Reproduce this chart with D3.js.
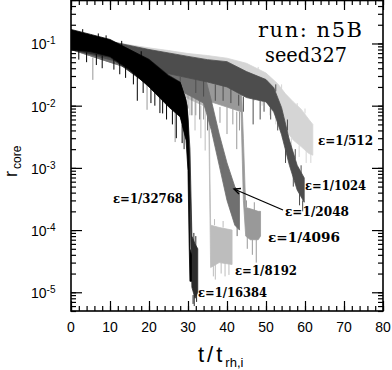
<!DOCTYPE html>
<html>
<head>
<meta charset="utf-8">
<script src="https://cdn.jsdelivr.net/npm/d3@7"></script>
<style>
  body { margin: 0; background: #fff; }
  text { fill: #000; }
</style>
</head>
<body>
<svg id="chart" width="392" height="370"></svg>
<script>
// r_core bands: time (t/t_rh,i), upper edge, lower edge of the noisy band
var t512 = [0, 5, 10, 15, 20, 25, 30, 35, 40, 45, 50, 53, 55, 57, 59, 61, 62]
var hi512 = [0.16, 0.13, 0.108, 0.095, 0.085, 0.077, 0.069, 0.064, 0.058, 0.048, 0.0335, 0.0225, 0.0155, 0.0115, 0.0088, 0.006, 0.005]
var lo512 = [0.08, 0.066, 0.055, 0.049, 0.044, 0.038, 0.032, 0.029, 0.024, 0.0195, 0.0125, 0.0059, 0.0041, 0.0028, 0.0022, 0.0017, 0.0016]

var t1024 = [0, 10, 20, 30, 35, 40, 45, 50, 52, 54, 56, 58, 59.8]
var hi1024 = [0.156, 0.108, 0.08, 0.062, 0.055, 0.051, 0.0353, 0.0263, 0.0195, 0.0093, 0.0028, 0.0011, 0.00069]
var lo1024 = [0.08, 0.055, 0.038, 0.028, 0.024, 0.02, 0.0135, 0.0115, 0.008, 0.0034, 0.0011, 0.00044, 0.00028]

var t2048 = [0, 10, 20, 30, 34, 36, 38, 40, 42, 43.2]
var hi2048 = [0.156, 0.105, 0.07, 0.045, 0.036, 0.012, 0.0035, 0.0012, 0.0005, 0.0004]
var lo2048 = [0.08, 0.05, 0.032, 0.015, 0.011, 0.004, 0.0011, 0.0003, 0.00012, 0.0001]

var t4096 = [0, 10, 20, 30, 35, 40, 43.6, 44.2, 44.8, 46, 48, 48.6]
var hi4096 = [0.156, 0.105, 0.07, 0.045, 0.036, 0.032, 0.028, 0.003, 0.00023, 0.00022, 0.0002, 0.0002]
var lo4096 = [0.08, 0.05, 0.032, 0.016, 0.012, 0.0095, 0.008, 0.0003, 0.00008, 0.00007, 0.00007, 0.00008]

var t8192 = [0, 10, 20, 30, 34, 35.3, 35.8, 38, 41.3]
var hi8192 = [0.156, 0.105, 0.068, 0.043, 0.035, 0.03, 0.00012, 0.00011, 0.0001]
var lo8192 = [0.08, 0.05, 0.03, 0.013, 0.01, 0.008, 0.000025, 0.00003, 0.000028]

var t16384 = [0, 10, 20, 25, 28, 29.8, 30.5, 31, 31.8, 32.5]
var hi16384 = [0.16, 0.112, 0.056, 0.031, 0.024, 0.01, 0.002, 0.00008, 0.00006, 0.00005]
var lo16384 = [0.08, 0.06, 0.021, 0.0105, 0.007, 0.0025, 0.0003, 0.000012, 0.000008, 0.00001]

var t32768 = [0, 5, 10, 15, 20, 25, 28, 29.5, 30, 30.3, 30.5, 30.9]
var hi32768 = [0.168, 0.14, 0.116, 0.08, 0.055, 0.03, 0.0235, 0.0125, 0.006, 0.0008, 0.00005, 0.00004]
var lo32768 = [0.08, 0.074, 0.062, 0.038, 0.02, 0.0096, 0.0066, 0.0028, 0.0009, 0.00006, 0.000015, 0.000015]

// noise spikes sticking out of each band: [t, from r, to r]
var spk512 = [[38, 0.026, 0.02], [42, 0.022, 0.016], [45.5, 0.019, 0.014], [47, 0.02, 0.012], [49, 0.015, 0.01],
  [51, 0.013, 0.007], [52.5, 0.007, 0.005], [54.2, 0.005, 0.003], [56.5, 0.003, 0.0019], [58.5, 0.0023, 0.0015],
  [60.3, 0.0019, 0.0012], [61.5, 0.0017, 0.0012], [48, 0.035, 0.042], [54, 0.018, 0.022], [58, 0.009, 0.011], [60, 0.0075, 0.009]]
var spk1024 = [[25, 0.03, 0.02], [28, 0.029, 0.018], [32, 0.027, 0.016], [34, 0.025, 0.014], [37, 0.022, 0.012],
  [39, 0.021, 0.012], [41, 0.019, 0.011], [43, 0.015, 0.01], [44.2, 0.014, 0.008], [46.7, 0.013, 0.005],
  [48.5, 0.012, 0.006], [49.5, 0.0115, 0.008], [51.2, 0.01, 0.006], [53, 0.006, 0.004], [55, 0.002, 0.0012],
  [57, 0.0008, 0.0005], [58.6, 0.0004, 0.00025], [59.4, 0.0003, 0.0002], [52.5, 0.017, 0.022], [55.5, 0.004, 0.006],
  [57.5, 0.0014, 0.002], [59, 0.0008, 0.0011]]
var spk2048 = [[28, 0.02, 0.01], [31, 0.014, 0.007], [33, 0.012, 0.006], [35, 0.007, 0.004], [36.8, 0.006, 0.0035],
  [39, 0.0015, 0.0008], [41, 0.0006, 0.0002], [42.6, 0.0002, 0.00008]]
var spk4096 = [[5.6, 0.06, 0.026], [19.5, 0.033, 0.0086], [26.7, 0.02, 0.0026], [30, 0.016, 0.009], [32, 0.014, 0.007],
  [34, 0.013, 0.006], [36, 0.012, 0.005], [38.2, 0.0095, 0.0053], [40, 0.0095, 0.0035], [41.5, 0.009, 0.005],
  [42.5, 0.008, 0.002], [43.2, 0.008, 0.004], [45.2, 0.00008, 0.00005], [46.5, 0.00007, 0.00004], [47.5, 0.00007, 0.00003],
  [45, 0.00023, 0.0003], [47, 0.0002, 0.00028]]
var spk8192 = [[22, 0.03, 0.015], [25, 0.022, 0.01], [27, 0.018, 0.008], [29.2, 0.015, 0.005], [30.5, 0.013, 0.007],
  [31.8, 0.012, 0.004], [33.3, 0.01, 0.003], [34.4, 0.01, 0.0019], [35, 0.009, 0.005], [36.5, 0.000028, 0.000018],
  [37, 0.00003, 0.000016], [38.5, 0.00003, 0.00002], [39.5, 0.00003, 0.000018], [40.5, 0.00003, 0.000019],
  [36.8, 0.00012, 0.00015], [39, 0.00011, 0.00014]]
var spk16384 = [[29, 0.005, 0.002], [31.3, 0.000009, 0.0000065], [31.6, 0.000009, 0.000006], [32.2, 0.00001, 0.000007],
  [31.5, 0.00006, 0.00009], [32, 0.00005, 0.00008]]
var spk32768 = [[2, 0.075, 0.055], [4, 0.072, 0.05], [6.5, 0.068, 0.045], [8, 0.064, 0.04], [11, 0.058, 0.038],
  [12.5, 0.052, 0.032], [14, 0.044, 0.028], [16, 0.036, 0.022], [17, 0.03, 0.012], [18.5, 0.027, 0.016],
  [20.5, 0.019, 0.011], [21.5, 0.017, 0.01], [22.8, 0.015, 0.0076], [23.5, 0.013, 0.0075], [24.5, 0.011, 0.006],
  [26, 0.009, 0.005], [27, 0.008, 0.003], [28.5, 0.005, 0.0025], [3, 0.15, 0.17], [7, 0.125, 0.145],
  [9, 0.118, 0.135], [13, 0.09, 0.11], [18, 0.063, 0.075]]

var xMajor = [0, 10, 20, 30, 40, 50, 60, 70, 80]
var yMajor = [1e-5, 1e-4, 1e-3, 1e-2, 1e-1]
var yExp = ['-5', '-4', '-3', '-2', '-1']

var series = [
  { name: '1/512', t: t512, hi: hi512, lo: lo512, spk: spk512, color: '#d5d5d5' },
  { name: '1/8192', t: t8192, hi: hi8192, lo: lo8192, spk: spk8192, color: '#bdbdbd' },
  { name: '1/4096', t: t4096, hi: hi4096, lo: lo4096, spk: spk4096, color: '#999999' },
  { name: '1/2048', t: t2048, hi: hi2048, lo: lo2048, spk: spk2048, color: '#707070' },
  { name: '1/1024', t: t1024, hi: hi1024, lo: lo1024, spk: spk1024, color: '#4d4d4d' },
  { name: '1/16384', t: t16384, hi: hi16384, lo: lo16384, spk: spk16384, color: '#2b2b2b' },
  { name: '1/32768', t: t32768, hi: hi32768, lo: lo32768, spk: spk32768, color: '#000000' }
]

function go() {
  var pLeft = 71, pRight = 383, pTop = 0, pBottom = 311
  var x = d3.scaleLinear().domain([0, 80]).range([pLeft, pRight])
  var y = d3.scaleLog().domain([5e-6, 0.5]).range([pBottom, pTop])

  var svg = d3.select('#chart')

  svg.append('defs').append('clipPath').attr('id', 'plot')
    .append('rect').attr('x', pLeft).attr('y', pTop).attr('width', pRight - pLeft).attr('height', pBottom - pTop)

  var band = d3.area()
    .x(function(d) { return x(d[0]) })
    .y0(function(d) { return y(d[2]) })
    .y1(function(d) { return y(d[1]) })

  var g = svg.append('g').attr('clip-path', 'url(#plot)')

  series.forEach(function(s) {
    var pts = s.t.map(function(t, i) { return [t, s.hi[i], s.lo[i]] })
    g.append('path')
      .attr('d', band(pts))
      .style('fill', s.color)
      .style('stroke', s.color)
      .style('stroke-width', 0.8)
    g.selectAll(null).data(s.spk).enter().append('line')
      .attr('x1', function(d) { return x(d[0]) })
      .attr('x2', function(d) { return x(d[0]) })
      .attr('y1', function(d) { return y(d[1]) })
      .attr('y2', function(d) { return y(d[2]) })
      .style('stroke', s.color)
      .style('stroke-width', 1)
  })

  // ticks on all four sides, pointing inward
  var tickStyle = function(sel) {
    sel.select('.domain').remove()
    sel.selectAll('line').style('stroke', '#000').style('stroke-width', 1.2)
    sel.selectAll('text').remove()
  }
  var xMinor = x.ticks(40)
  var yMinor = y.ticks()

  svg.append('g').attr('transform', 'translate(0,' + pBottom + ')')
    .call(d3.axisBottom(x).tickValues(xMinor).tickSize(-5)).call(tickStyle)
  svg.append('g').attr('transform', 'translate(0,' + pBottom + ')')
    .call(d3.axisBottom(x).tickValues(xMajor).tickSize(-10)).call(tickStyle)
  svg.append('g').attr('transform', 'translate(0,' + pTop + ')')
    .call(d3.axisTop(x).tickValues(xMinor).tickSize(-5)).call(tickStyle)
  svg.append('g').attr('transform', 'translate(0,' + pTop + ')')
    .call(d3.axisTop(x).tickValues(xMajor).tickSize(-10)).call(tickStyle)
  svg.append('g').attr('transform', 'translate(' + pLeft + ',0)')
    .call(d3.axisLeft(y).tickValues(yMinor).tickSize(-5)).call(tickStyle)
  svg.append('g').attr('transform', 'translate(' + pLeft + ',0)')
    .call(d3.axisLeft(y).tickValues(yMajor).tickSize(-11)).call(tickStyle)
  svg.append('g').attr('transform', 'translate(' + pRight + ',0)')
    .call(d3.axisRight(y).tickValues(yMinor).tickSize(-5)).call(tickStyle)
  svg.append('g').attr('transform', 'translate(' + pRight + ',0)')
    .call(d3.axisRight(y).tickValues(yMajor).tickSize(-11)).call(tickStyle)

  svg.append('rect')
    .attr('x', pLeft).attr('y', pTop + 0.5)
    .attr('width', pRight - pLeft).attr('height', pBottom - pTop - 0.5)
    .style('fill', 'none').style('stroke', '#000').style('stroke-width', 1.6)

  // tick labels
  var sans = 'Liberation Sans, Arial, Helvetica, sans-serif'
  svg.selectAll('.xl').data(xMajor).enter().append('text')
    .attr('x', function(d) { return x(d) })
    .attr('y', 332)
    .attr('text-anchor', 'middle')
    .style('font-family', sans).style('font-size', '14px')
    .text(function(d) { return d })

  var yl = svg.selectAll('.yl').data(yMajor).enter().append('text')
    .attr('x', 31)
    .attr('y', function(d) { return y(d) + 6 })
    .style('font-family', sans).style('font-size', '14px')
  yl.append('tspan').text('10')
  yl.append('tspan').attr('dy', -5).style('font-size', '10px')
    .text(function(d, i) { return yExp[i] })

  // axis titles
  var xt = svg.append('text').attr('x', 198).attr('y', 362)
    .style('font-family', sans).style('font-size', '22px')
  xt.append('tspan').style('letter-spacing', '3px').text('t/t')
  xt.append('tspan').attr('dy', 5).style('font-size', '13px').text('rh,i')

  var yt = svg.append('text').attr('transform', 'translate(17,177) rotate(-90)')
    .style('font-family', sans).style('font-size', '18px')
  yt.append('tspan').text('r')
  yt.append('tspan').attr('dy', 4).attr('dx', 2).style('font-size', '12px').text('core')

  // run info
  var serif = 'DejaVu Serif, serif'
  svg.append('text').attr('x', 258).attr('y', 37)
    .attr('textLength', 104).attr('lengthAdjust', 'spacing')
    .style('font-family', serif).style('font-size', '21px')
    .text('run: n5B')
  svg.append('text').attr('x', 265).attr('y', 62)
    .attr('textLength', 82).attr('lengthAdjust', 'spacingAndGlyphs')
    .style('font-family', serif).style('font-size', '20px')
    .text('seed327')

  // epsilon labels
  var epsLabels = [
    ['\u03b5=1/512', 318, 145, 55],
    ['\u03b5=1/1024', 305, 190, 61],
    ['\u03b5=1/2048', 285, 216, 64],
    ['\u03b5=1/4096', 268, 242, 72],
    ['\u03b5=1/8192', 235, 275, 62],
    ['\u03b5=1/16384', 198, 297, 69],
    ['\u03b5=1/32768', 113, 203, 70]
  ]
  svg.selectAll('.eps').data(epsLabels).enter().append('text')
    .attr('x', function(d) { return d[1] })
    .attr('y', function(d) { return d[2] })
    .attr('textLength', function(d) { return d[3] })
    .attr('lengthAdjust', 'spacingAndGlyphs')
    .style('font-family', serif).style('font-size', '12px').style('font-weight', 'bold')
    .text(function(d) { return d[0] })

  // arrow to the 1/2048 curve
  svg.append('line').attr('x1', 283).attr('y1', 210).attr('x2', 234).attr('y2', 189)
    .style('stroke', '#000').style('stroke-width', 1.3)
  svg.append('path').attr('d', 'M241,188.5 L234,189 L239,194')
    .style('fill', 'none').style('stroke', '#000').style('stroke-width', 1.3)
}

go()
</script>
</body>
</html>
